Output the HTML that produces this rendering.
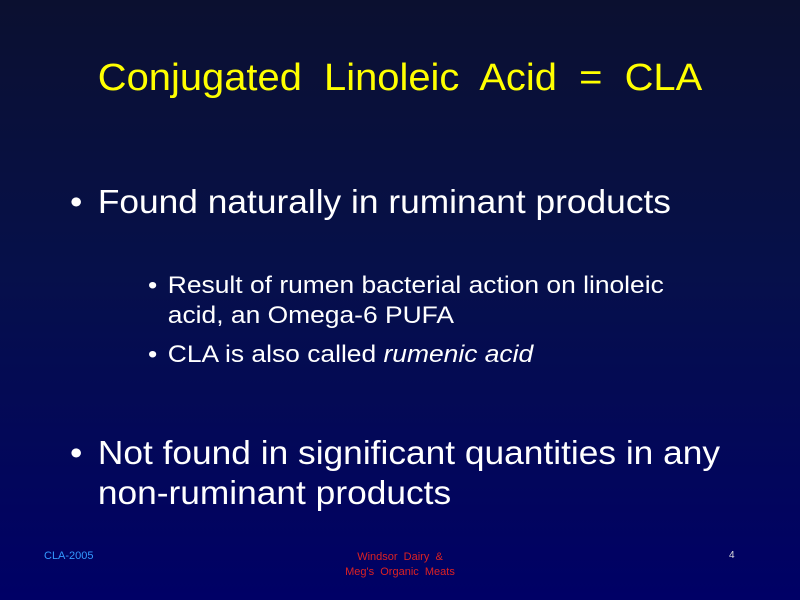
<!DOCTYPE html>
<html><head><meta charset="utf-8"><style>
body{margin:0;width:800px;height:600px;overflow:hidden;font-family:"Liberation Sans",Arial,Helvetica,sans-serif;
background:linear-gradient(to bottom,#0b1030 0%,#06104a 45%,#000066 100%);position:relative;color:#fff}
div{position:absolute;white-space:nowrap}
.t{left:0;width:800px;text-align:center;top:57px;font-size:38px;color:#ffff00;transform:scaleX(1.05)}
.b1{font-size:33px;left:70px;transform-origin:0 0;transform:scaleX(1.07)}
.b2{font-size:24px;left:148px;transform-origin:0 0;transform:scaleX(1.1)}
</style></head><body>
<div class="t">Conjugated&nbsp; Linoleic&nbsp; Acid&nbsp; =&nbsp; CLA</div>
<div class="b1" style="top:183px"><span>•</span><span style="position:absolute;left:26px">Found naturally in ruminant products</span></div>
<div class="b2" style="top:271px;line-height:30px"><span>•</span><span style="position:absolute;left:18px">Result of rumen bacterial action on linoleic<br>acid, an Omega-6 PUFA</span></div>
<div class="b2" style="top:341px"><span>•</span><span style="position:absolute;left:18px">CLA is also called <i>rumenic acid</i></span></div>
<div class="b1" style="top:433px;line-height:40px"><span>•</span><span style="position:absolute;left:26px">Not found in significant quantities in any<br>non-ruminant products</span></div>
<div style="left:44px;top:550px;font-size:11px;color:#3399ff">CLA-2005</div>
<div style="left:300px;width:200px;text-align:center;top:550px;font-size:11px;line-height:15px;color:#dd2222">Windsor&nbsp; Dairy&nbsp; &amp;<br>Meg's&nbsp; Organic&nbsp; Meats</div>
<div style="left:729px;top:550px;font-size:10px;color:#ddd">4</div>
</body></html>
